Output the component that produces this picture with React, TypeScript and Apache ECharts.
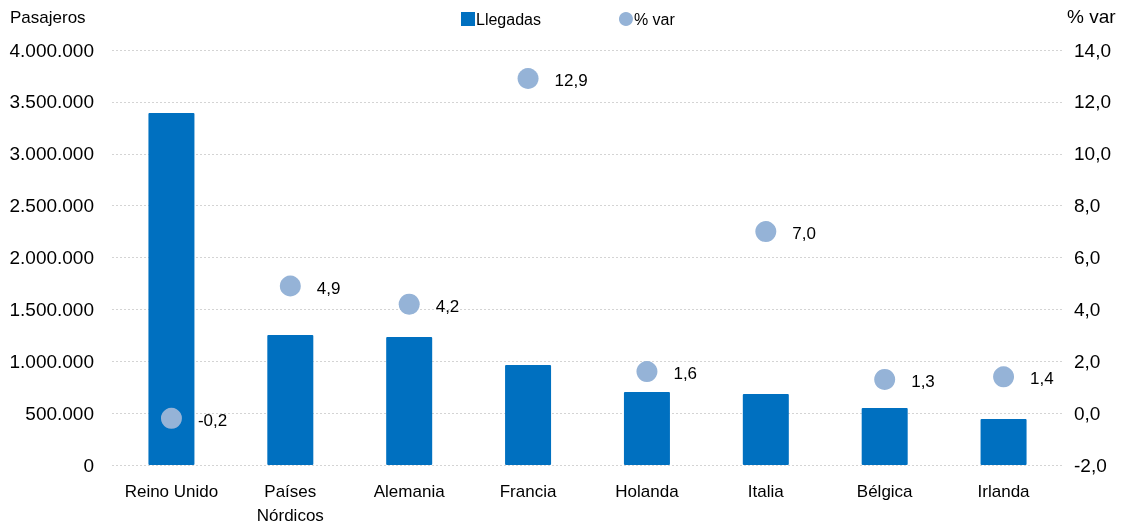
import React, { useEffect, useRef } from "react";
import * as echarts from "echarts";

const categories = ["Reino Unido", "Países\nNórdicos", "Alemania", "Francia", "Holanda", "Italia", "Bélgica", "Irlanda"];
const llegadas = [3393000, 1253000, 1234000, 964000, 704000, 684000, 549000, 443000];
const pctVar = [-0.2, 4.9, 4.2, 12.9, 1.6, 7.0, 1.3, 1.4];

const FONT = "'Liberation Sans Narrow', 'Liberation Sans', Arial, sans-serif";

const fmtThousands = (v: number) => String(Math.round(v)).replace(/\B(?=(\d{3})+(?!\d))/g, ".");
const fmtPct = (v: number) => v.toFixed(1).replace(".", ",");

export default function App() {
  const ref = useRef<HTMLDivElement>(null);
  useEffect(() => {
    if (!ref.current) return;
    const chart = echarts.init(ref.current, undefined, { renderer: "svg" });
    chart.setOption({
      animation: false,
      textStyle: { fontFamily: FONT, color: "#000" },
      legend: {
        top: 6,
        left: 456,
        itemGap: 78,
        itemWidth: 14,
        itemHeight: 14,
        textStyle: { fontFamily: FONT, fontSize: 16, color: "#000", padding: [0, 0, 0, -4] },
        data: [
          { name: "Llegadas", icon: "rect" },
          { name: "% var", icon: "circle", itemStyle: { color: "#95B3D7" } },
        ],
      },
      grid: { left: 112, right: 63, top: 50, bottom: 59, containLabel: false, outerBoundsMode: "none" },
      xAxis: {
        type: "category",
        data: categories,
        axisLine: { show: false },
        axisTick: { show: false },
        axisLabel: { fontFamily: FONT, fontSize: 17, color: "#000", margin: 14, lineHeight: 24, interval: 0 },
      },
      yAxis: [
        {
          type: "value",
          min: 0,
          max: 4000000,
          interval: 500000,
          name: "Pasajeros",
          nameLocation: "end",
          nameGap: 24,
          nameTextStyle: { fontFamily: FONT, fontSize: 17, color: "#000", align: "left", padding: [0, 0, 0, -102] },
          axisLine: { show: false },
          axisTick: { show: false },
          axisLabel: { fontFamily: FONT, fontSize: 19, color: "#000", margin: 18, formatter: fmtThousands },
          splitLine: { lineStyle: { color: "#d4d4d4", type: [2, 2], width: 1 } },
        },
        {
          type: "value",
          min: -2,
          max: 14,
          interval: 2,
          name: "% var",
          nameLocation: "end",
          nameGap: 24,
          nameTextStyle: { fontFamily: FONT, fontSize: 19, color: "#000", align: "left", padding: [0, 0, 0, 4] },
          axisLine: { show: false },
          axisTick: { show: false },
          axisLabel: { fontFamily: FONT, fontSize: 19, color: "#000", margin: 11, formatter: fmtPct },
          splitLine: { show: false },
        },
      ],
      series: [
        {
          name: "Llegadas",
          type: "bar",
          data: llegadas,
          barWidth: 46,
          itemStyle: { color: "#0070C0", borderRadius: 1 },
        },
        {
          name: "% var",
          type: "scatter",
          yAxisIndex: 1,
          data: pctVar,
          symbolSize: 21,
          itemStyle: { color: "#95B3D7", opacity: 1 },
          label: {
            show: true,
            position: "right",
            distance: 16,
            fontFamily: FONT,
            fontSize: 17,
            color: "#000",
            offset: [0, 2],
            formatter: (p: any) => fmtPct(p.value),
          },
        },
      ],
    });
    return () => chart.dispose();
  }, []);
  return <div ref={ref} style={{ position: "fixed", left: 0, top: 0, width: 1126, height: 524 }} />;
}
